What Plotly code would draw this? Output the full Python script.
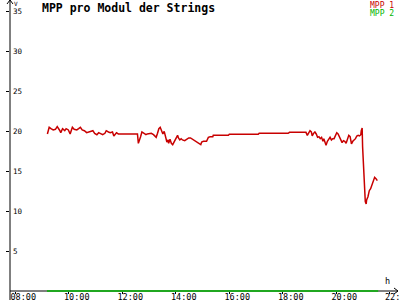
import plotly.graph_objects as go

# ---- data ----
mpp1_times = [
    "09:12", "09:16", "09:20", "09:25", "09:30", "09:34", "09:39", "09:42", "09:46", "09:51",
    "09:54", "09:59", "10:03", "10:08", "10:12", "10:18", "10:22", "10:26", "10:30", "10:35",
    "10:40", "10:45", "10:49", "10:54", "10:58", "11:03", "11:07", "11:12", "11:16", "11:21",
    "11:24", "11:29", "11:33", "11:38", "11:41", "11:47", "11:51", "11:56", "12:00", "12:05",
    "12:10", "12:14", "12:22", "12:31", "12:34", "12:36", "12:38", "12:41", "12:44", "12:49",
    "12:53", "12:56", "13:01", "13:05", "13:10", "13:14", "13:16", "13:19", "13:22", "13:25",
    "13:28", "13:31", "13:34", "13:37", "13:40", "13:43", "13:44", "13:47", "13:50", "13:53",
    "13:56", "13:59", "14:02", "14:04", "14:06", "14:09", "14:12", "14:15", "14:20", "14:24",
    "14:29", "14:33", "14:38", "14:42", "14:47", "14:51", "14:56", "14:58", "15:02", "15:09",
    "15:13", "15:17", "15:23", "15:24", "15:39", "15:58", "16:00", "16:24", "17:05", "17:07",
    "17:39", "18:12", "18:15", "18:52", "18:55", "18:58", "19:01", "19:04", "19:06", "19:09",
    "19:12", "19:15", "19:18", "19:21", "19:24", "19:27", "19:30", "19:32", "19:35", "19:37",
    "19:40", "19:43", "19:46", "19:49", "19:52", "19:55", "19:58", "20:01", "20:04", "20:07",
    "20:10", "20:13", "20:16", "20:19", "20:22", "20:25", "20:28", "20:31", "20:34", "20:37",
    "20:40", "20:43", "20:46", "20:49", "20:52", "20:55", "20:56", "20:58", "20:59", "21:01",
    "21:03", "21:05", "21:07", "21:08", "21:11", "21:14", "21:17", "21:20", "21:23", "21:26",
    "21:29", "21:32",
]
mpp1_values = [
    19.63, 20.46, 20.29, 20.13, 20.21, 20.54, 20.13, 19.79, 20.29, 20.04,
    20.29, 20.13, 19.63, 20.46, 20.21, 20.13, 20.29, 20.46, 20.13, 20.04,
    19.79, 19.88, 20.04, 20.04, 19.71, 19.54, 19.79, 19.63, 19.54, 19.71,
    20.04, 19.88, 19.79, 19.88, 19.38, 19.79, 19.63, 19.63, 19.63, 19.63,
    19.63, 19.71, 19.71, 19.71, 19.63, 18.46, 18.96, 19.29, 19.88, 19.71,
    19.54, 19.63, 19.71, 19.71, 19.54, 19.38, 19.21, 19.71, 20.29, 20.46,
    19.96, 19.63, 19.96, 19.29, 18.63, 18.88, 18.46, 18.96, 18.46, 18.29,
    18.63, 18.79, 19.29, 19.46, 19.13, 18.88, 19.04, 18.88, 18.79, 18.96,
    19.13, 19.13, 18.96, 18.79, 18.63, 18.54, 18.29, 18.63, 18.71, 18.71,
    19.21, 19.29, 19.29, 19.46, 19.46, 19.46, 19.58, 19.58, 19.58, 19.71,
    19.71, 19.71, 19.83, 19.83, 19.46, 19.71, 20.04, 19.88, 19.38, 19.71,
    19.88, 19.63, 19.21, 19.29, 19.04, 19.21, 18.71, 19.04, 18.54, 18.21,
    18.71, 19.04, 19.21, 18.88, 19.04, 19.04, 19.38, 19.79, 19.63, 19.29,
    18.96, 18.54, 18.79, 18.71, 18.46, 18.96, 19.46, 19.29, 18.38, 18.71,
    18.88, 19.04, 19.38, 19.46, 19.38, 19.54, 20.04, 20.38, 18.04, 15.13,
    12.42, 11.17, 10.88, 11.38, 11.79, 12.54, 12.79, 13.29, 13.96, 14.21,
    14.04, 13.79,
]
mpp2_times = ["09:11", "12:00", "16:00", "20:00", "21:34"]
mpp2_values = [0.0, 0.0, 0.0, 0.0, 0.0]

tick_hours = [8, 10, 12, 14, 16, 18, 20, 22]
tick_labels = ["08:00", "10:00", "12:00", "14:00", "16:00", "18:00", "20:00", "22:00"]
y_ticks = [5, 10, 15, 20, 25, 30, 35]


def to_hours(t):
    h, m = t.split(":")
    return int(h) + int(m) / 60.0


RED = "#c80000"
GREEN = "#00b400"
MONO = "DejaVu Sans Mono"

W, H = 400, 300
ML, MR, MT, MB = 10, 2, 0, 7
PW, PH = W - ML - MR, H - MT - MB


def xp(px):
    return (px - ML) / PW


def yp(py):
    return 1 - (py - MT) / PH


fig = go.Figure()
fig.add_trace(go.Scatter(x=[to_hours(t) for t in mpp2_times], y=mpp2_values, mode="lines",
                         line=dict(color=GREEN, width=1.5), hoverinfo="skip"))
fig.add_trace(go.Scatter(x=[to_hours(t) for t in mpp1_times], y=mpp1_values, mode="lines",
                         line=dict(color=RED, width=1.5), hoverinfo="skip"))

x_left = 8 - (15.3 - ML) / 26.75
x_right = 8 + (W - MR - 15.3) / 26.75

fig.update_layout(
    width=W, height=H,
    margin=dict(l=ML, r=MR, t=MT, b=MB, pad=0, autoexpand=False),
    paper_bgcolor="white", plot_bgcolor="white",
    showlegend=False,
    xaxis=dict(range=[x_left, x_right], tickvals=tick_hours, ticktext=tick_labels,
               showgrid=False, zeroline=False, showline=False, automargin=False,
               anchor="free", position=2 / PH,
               ticks="outside", ticklen=2, tickcolor="black", tickwidth=1,
               tickfont=dict(family=MONO, size=8.5, color="black"),
               ticklabelshift=8, ticklabelstandoff=-4, ticklabeloverflow="allow",
               layer="above traces"),
    yaxis=dict(range=[-2 / 8, (PH - 2) / 8], tickvals=y_ticks,
               showgrid=False, zeroline=False, showline=False, automargin=False,
               ticks="outside", ticklen=3, tickcolor="black", tickwidth=1,
               ticklabelposition="inside", ticklabeloverflow="allow",
               tickfont=dict(family=MONO, size=7.5, color="black")),
    shapes=[
        dict(type="line", xref="paper", yref="y", x0=0, x1=1, y0=0, y1=0,
             line=dict(color="black", width=1), layer="below"),
        dict(type="line", xref="paper", yref="paper", x0=0, x1=0, y0=yp(300), y1=1,
             line=dict(color="black", width=1), layer="below"),
        dict(type="path", xref="paper", yref="paper",
             path=f"M {xp(7)} {yp(4)} L {xp(10)} {yp(0)} L {xp(13)} {yp(4)}",
             line=dict(color="black", width=1)),
        dict(type="path", xref="paper", yref="paper",
             path=f"M {xp(394)} {yp(288)} L {xp(398)} {yp(291)} L {xp(394)} {yp(294)}",
             line=dict(color="black", width=1)),
    ],
    annotations=[
        dict(text="<b>MPP pro Modul der Strings</b>", xref="paper", yref="paper",
             x=xp(40), y=yp(8), xanchor="left", yanchor="middle", showarrow=False,
             font=dict(family=MONO, size=11.5, color="black")),
        dict(text="MPP 1", xref="paper", yref="paper", x=xp(396), y=yp(5.5),
             xanchor="right", yanchor="middle", showarrow=False,
             font=dict(family=MONO, size=8, color=RED)),
        dict(text="MPP 2", xref="paper", yref="paper", x=xp(396), y=yp(13.5),
             xanchor="right", yanchor="middle", showarrow=False,
             font=dict(family=MONO, size=8, color=GREEN)),
        dict(text="h", xref="paper", yref="paper", x=xp(387), y=yp(281),
             xanchor="center", yanchor="middle", showarrow=False,
             font=dict(family=MONO, size=8.5, color="black")),
        dict(text="V", xref="paper", yref="paper", x=xp(15.5), y=yp(3),
             xanchor="center", yanchor="middle", showarrow=False,
             font=dict(family=MONO, size=6, color="black")),
    ],
)

fig.write_html("out.html")
